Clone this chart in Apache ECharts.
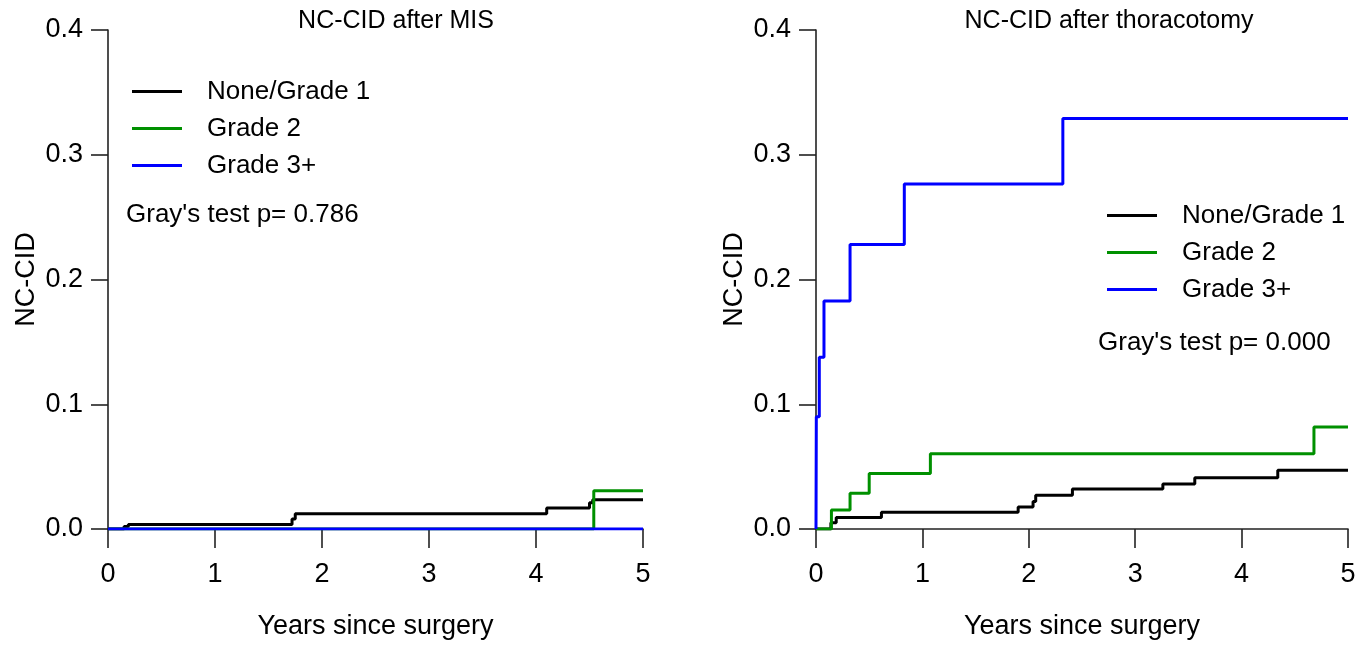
<!DOCTYPE html>
<html>
<head>
<meta charset="utf-8">
<script src="https://cdn.jsdelivr.net/npm/echarts@6/dist/echarts.min.js"></script>
<style>
html,body{margin:0;padding:0;background:#fff;}
#c{width:1369px;height:647px;}
</style>
</head>
<body>
<div id="c"></div>
<script>
// ---- data (years since surgery, cumulative incidence) ----
const groupNames = ['None/Grade 1', 'Grade 2', 'Grade 3+'];
const panelTitles = ['NC-CID after MIS', 'NC-CID after thoracotomy'];
const grayTexts = ["Gray's test p= 0.786", "Gray's test p= 0.000"];
const xTicks = [0, 1, 2, 3, 4, 5];
const yTicks = [0.0, 0.1, 0.2, 0.3, 0.4];

const misNone = [[0,0],[0.15,0.002],[0.19,0.0037],[1.72,0.008],[1.75,0.0123],[4.1,0.0168],[4.5,0.021],[4.53,0.0235],[5,0.0235]];
const misG2   = [[0,0],[4.54,0.0307],[5,0.0307]];
const misG3   = [[0,0],[5,0]];

const thorNone = [[0,0],[0.14,0.005],[0.19,0.0092],[0.615,0.0134],[1.9,0.0176],[2.04,0.022],[2.065,0.027],[2.41,0.032],[3.26,0.036],[3.56,0.041],[4.34,0.047],[5,0.047]];
const thorG2   = [[0,0],[0.145,0.0152],[0.32,0.0286],[0.5,0.0444],[1.075,0.0604],[4.68,0.0818],[5,0.0818]];
const thorG3   = [[0,0],[0.003,0.09],[0.031,0.1376],[0.075,0.1828],[0.32,0.228],[0.83,0.2765],[2.32,0.329],[5,0.329]];

const colors = ['#000000', '#009000', '#0000ff'];
const FONT = "'Liberation Sans', Arial, sans-serif";

function xAx(i){
  return {
    type:'value', gridIndex:i, min:xTicks[0], max:xTicks[xTicks.length-1], interval:1,
    name:'Years since surgery', nameLocation:'middle', nameGap:84,
    nameTextStyle:{fontFamily:FONT, fontSize:27, color:'#000'},
    axisLine:{show:true, onZero:false, lineStyle:{color:'#222', width:1.6}},
    axisTick:{show:true, length:19, lineStyle:{color:'#222', width:1.6}},
    axisLabel:{fontFamily:FONT, fontSize:27, color:'#000', margin:32},
    splitLine:{show:false}
  };
}
function yAx(i){
  return {
    type:'value', gridIndex:i, min:yTicks[0], max:yTicks[yTicks.length-1], interval:0.1,
    name:'NC-CID', nameLocation:'middle', nameGap:68, nameRotate:90,
    nameTextStyle:{fontFamily:FONT, fontSize:27, color:'#000'},
    axisLine:{show:true, lineStyle:{color:'#222', width:1.6}},
    axisTick:{show:true, length:17, lineStyle:{color:'#222', width:1.6}},
    axisLabel:{fontFamily:FONT, fontSize:27, color:'#000', margin:25, formatter:v=>v.toFixed(1)},
    splitLine:{show:false}
  };
}
function ser(name, data, idx, color){
  return {
    type:'line', name:name, data:data, xAxisIndex:idx, yAxisIndex:idx,
    step:'end', showSymbol:false, symbol:'none', silent:true, animation:false,
    lineStyle:{color:color, width:3}, itemStyle:{color:color}, z: 2
  };
}
function legend(left, top){
  return {
    left:left, top:top, orient:'vertical', icon:'rect', itemWidth:50, itemHeight:3,
    itemGap:0, data:groupNames, selectedMode:false,
    textStyle:{fontFamily:FONT, fontSize:26, color:'#000', lineHeight:37, padding:[0,0,0,20]}
  };
}

const chart = echarts.init(document.getElementById('c'), null, {renderer:'canvas'});
chart.setOption({
  backgroundColor:'#fff',
  animation:false,
  title:[
    {text:panelTitles[0], left:391, top:4, textAlign:'center', textStyle:{fontFamily:FONT, fontSize:25, fontWeight:'normal', color:'#000'}},
    {text:panelTitles[1], left:1104, top:4, textAlign:'center', textStyle:{fontFamily:FONT, fontSize:25, fontWeight:'normal', color:'#000'}},
    {text:grayTexts[0], left:121, top:197, textStyle:{fontFamily:FONT, fontSize:26, fontWeight:'normal', color:'#000'}},
    {text:grayTexts[1], left:1093, top:325, textStyle:{fontFamily:FONT, fontSize:26, fontWeight:'normal', color:'#000'}}
  ],
  legend:[legend(127, 68), legend(1102, 192)],
  grid:[
    {left:108, top:30, width:535, height:499},
    {left:816, top:30, width:532, height:499}
  ],
  xAxis:[xAx(0), xAx(1)],
  yAxis:[yAx(0), yAx(1)],
  series:[
    ser(groupNames[0], misNone, 0, colors[0]),
    ser(groupNames[1], misG2, 0, colors[1]),
    ser(groupNames[2], misG3, 0, colors[2]),
    ser(groupNames[0], thorNone, 1, colors[0]),
    ser(groupNames[1], thorG2, 1, colors[1]),
    ser(groupNames[2], thorG3, 1, colors[2])
  ]
});
</script>
</body>
</html>
